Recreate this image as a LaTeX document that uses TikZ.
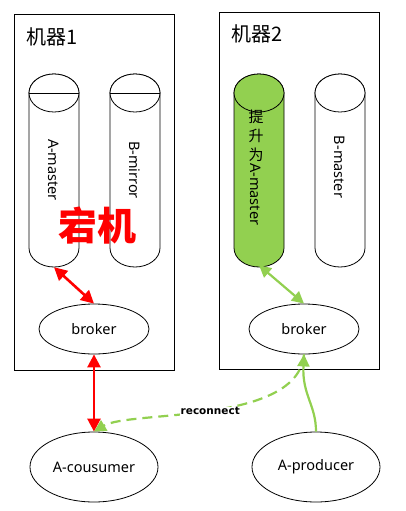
\documentclass[tikz,border=0pt]{standalone}
\usepackage{fontspec}
\setmainfont{Noto Sans}
\newfontfamily\cjk{Noto Sans CJK SC}
\newfontfamily\rcfont{DejaVu Sans}
\usetikzlibrary{arrows.meta,shapes.geometric}
\definecolor{lgreen}{HTML}{92D050}
\tikzset{
  machine/.style={draw, line width=0.8pt},
  ell/.style={draw, ellipse, line width=0.8pt, inner sep=0pt},
  cylbody/.style={draw, line width=0.8pt},
  redarr/.style={draw=red, line width=2.6pt, {Triangle[length=13pt,width=13pt]}-{Triangle[length=13pt,width=13pt]}},
  grnarr/.style={draw=lgreen, line width=2.2pt, {Triangle[length=12pt,width=12pt]}-{Triangle[length=12pt,width=12pt]}},
  grnone/.style={draw=lgreen, line width=2.2pt, -{Triangle[length=12pt,width=12pt]}},
  lbl/.style={font=\fontsize{14.5}{17}\selectfont, inner sep=0pt},
}
\newcommand{\drawcyl}[3]{% x1, x2, fill
  \path[cylbody, fill=#3] (#1,93) -- (#1,248) arc[start angle=180, end angle=360, x radius=25pt, y radius=19pt] -- (#2,93) arc[start angle=0, end angle=180, x radius=25pt, y radius=19pt] -- cycle;
  \path[cylbody, fill=#3] ({(#1+#2)/2},93) ellipse[x radius=25pt, y radius=19pt];
}
\begin{document}
\begin{tikzpicture}[x=1pt,y=-1pt]
\useasboundingbox[fill=white] (0,0) rectangle (406,511);
% machines
\node[machine, minimum width=160pt, minimum height=356pt, anchor=north west] (m1) at (14,14) {};
\node[machine, minimum width=160pt, minimum height=357pt, anchor=north west] (m2) at (219,12) {};
\node[anchor=west, inner sep=0pt, font=\cjk\fontsize{20}{22}\selectfont] (t1) at (26,37) {机器1};
\node[anchor=west, inner sep=0pt, font=\cjk\fontsize{20}{22}\selectfont] (t2) at (231,34) {机器2};
% cylinders
\drawcyl{29}{79}{white}
\draw[line width=0.8pt] (29,93) -- (79,93);
\drawcyl{110}{160}{white}
\draw[line width=0.8pt] (110,93) -- (160,93);
\drawcyl{234}{284}{lgreen}
\drawcyl{315}{365}{white}
\node[minimum width=50pt, minimum height=194pt, inner sep=0pt] (am) at (54,170) {};
\node[minimum width=50pt, minimum height=194pt, inner sep=0pt] (bm) at (135,170) {};
\node[minimum width=50pt, minimum height=192pt, inner sep=0pt] (gm) at (259,169) {};
\node[minimum width=50pt, minimum height=192pt, inner sep=0pt] (bms) at (340,169) {};
\node[lbl, rotate=-90] (amt) at (54,170) {A-master};
\node[lbl, rotate=-90] (bmt) at (135,170) {B-mirror};
\node[lbl, rotate=-90] (bmst) at (340,167) {B-master};
\node[lbl, align=center, font=\cjk\fontsize{15}{19}\selectfont] (gt1) at (256,136) {提\\升\\为};
\node[lbl, rotate=-90, anchor=west] (gt2) at (256,163) {A-master};
\node[text=red, font=\cjk\fontsize{39}{42}\selectfont\bfseries, inner sep=0pt] (down) at (97,226) {宕机};
% brokers
\node[ell, minimum width=110pt, minimum height=50pt, lbl] (b1) at (94,329) {broker};
\node[ell, minimum width=110pt, minimum height=50pt, lbl] (b2) at (304,329) {broker};
\node[ell, minimum width=128pt, minimum height=70pt, lbl] (cons) at (94,467) {A-cousumer};
\node[ell, minimum width=128pt, minimum height=70pt, lbl] (prod) at (316,467) {A-producer};
% arrows
\path[redarr] (am.south) -- (b1.north);
\path[redarr] (b1.south) -- (cons.north);
\path[grnarr] (gm.south) -- (b2.north);
\path[grnone] (prod.north) .. controls (316,405) and (302,395) .. (b2.south);
\path[draw=lgreen, line width=2.2pt, dash pattern=on 10pt off 6pt, -{Triangle[length=12pt,width=12pt]}] (b2.south) .. controls (298,425) and (130,410) .. (cons.north) node[pos=0.5, fill=white, inner sep=0.5pt, text=black, font=\rcfont\bfseries\fontsize{10.5}{12}\selectfont] (rc) {reconnect};
\end{tikzpicture}
\end{document}
